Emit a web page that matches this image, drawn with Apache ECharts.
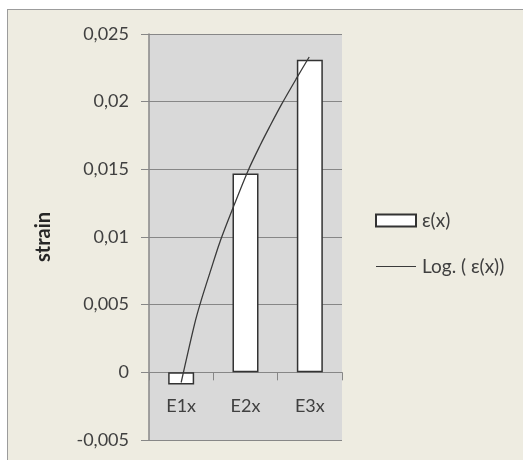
<!DOCTYPE html>
<html>
<head>
<meta charset="utf-8">
<script src="https://cdn.jsdelivr.net/npm/echarts@6/dist/echarts.min.js"></script>
<style>
  html, body { margin: 0; padding: 0; background: #ffffff; }
  #frame {
    position: absolute; left: 7px; top: 9px; right: 0; bottom: 0;
    background: #eeece1; border-left: 1px solid #9c9c9c; border-top: 1px solid #9c9c9c;
  }
  #chart { position: absolute; left: 0; top: 0; width: 523px; height: 460px; }
</style>
</head>
<body>
<div id="frame"></div>
<div id="chart"></div>
<script>
// Strain per measuring point
const categories = ['E1x', 'E2x', 'E3x'];
const strainValues = [-0.0009, 0.0147, 0.0231];

// Logarithmic trendline, sampled as [category position, strain]
const trendPoints = [
  [0.00, -0.00075], [0.21, 0.0036], [0.31, 0.0053], [0.47, 0.0077],
  [0.60, 0.0096], [0.81, 0.0122], [1.04, 0.0149], [1.23, 0.0168],
  [1.37, 0.0181], [1.56, 0.0198], [1.79, 0.0217], [1.99, 0.0233]
];

const barName = 'ε(x)';
const trendName = 'Log. ( ε(x))';

const FONT = 'Lato, "Open Sans", sans-serif';
const TEXT = '#404040';
const AXIS = '#878787';
const LINE = '#3a3a3a';

const chart = echarts.init(document.getElementById('chart'), null, { renderer: 'canvas' });

chart.setOption({
  backgroundColor: 'transparent',
  animation: false,
  textStyle: { fontFamily: FONT },
  grid: {
    left: 149, top: 34, width: 193, height: 406,
    containLabel: false, outerBoundsMode: 'none',
    show: true, backgroundColor: '#d9d9d9', borderWidth: 0
  },
  legend: {
    left: 375, top: 211, orient: 'vertical', padding: 0,
    itemWidth: 40, itemHeight: 12, itemGap: 27,
    textStyle: { fontFamily: FONT, fontSize: 19, color: TEXT, padding: [0, 0, 0, 1] },
    data: [
      { name: barName, icon: 'rect' },
      { name: trendName, icon: 'path://M0,0H40V1.2H0Z', itemStyle: { color: LINE } }
    ]
  },
  xAxis: [
    {
      type: 'category', data: categories, boundaryGap: true,
      axisLine: { show: true, onZero: true, lineStyle: { color: AXIS, width: 1 } },
      axisTick: { show: true, length: 8, lineStyle: { color: AXIS } },
      // labels sit inside the plot, just below the zero line
      axisLabel: { margin: -43, fontFamily: FONT, fontSize: 18, color: TEXT },
      splitLine: { show: false }
    },
    {
      type: 'value', min: -0.5, max: 2.5, show: false
    }
  ],
  yAxis: {
    type: 'value', min: -0.005, max: 0.025, interval: 0.005,
    name: 'strain', nameLocation: 'middle', nameGap: 95, nameRotate: 90,
    nameTextStyle: { fontFamily: FONT, fontSize: 20, fontWeight: 'bold', color: '#262626' },
    axisLine: { show: true, onZero: false, lineStyle: { color: AXIS, width: 1.5 } },
    axisTick: { show: true, length: 8, lineStyle: { color: AXIS } },
    axisLabel: {
      margin: 20, fontFamily: FONT, fontSize: 18, color: TEXT,
      formatter: v => String(Number(v.toFixed(3))).replace('.', ',')
    },
    splitLine: { show: true, lineStyle: { color: AXIS, width: 1 } }
  },
  series: [
    {
      name: barName, type: 'bar', data: strainValues,
      xAxisIndex: 0, barWidth: 26,
      itemStyle: { color: '#ffffff', borderColor: '#333333', borderWidth: 1.5 }
    },
    {
      name: trendName, type: 'line', data: trendPoints,
      xAxisIndex: 1, symbol: 'none', smooth: 0.3, z: 5,
      lineStyle: { color: LINE, width: 1.3 },
      itemStyle: { color: LINE }
    }
  ]
});
</script>
</body>
</html>
